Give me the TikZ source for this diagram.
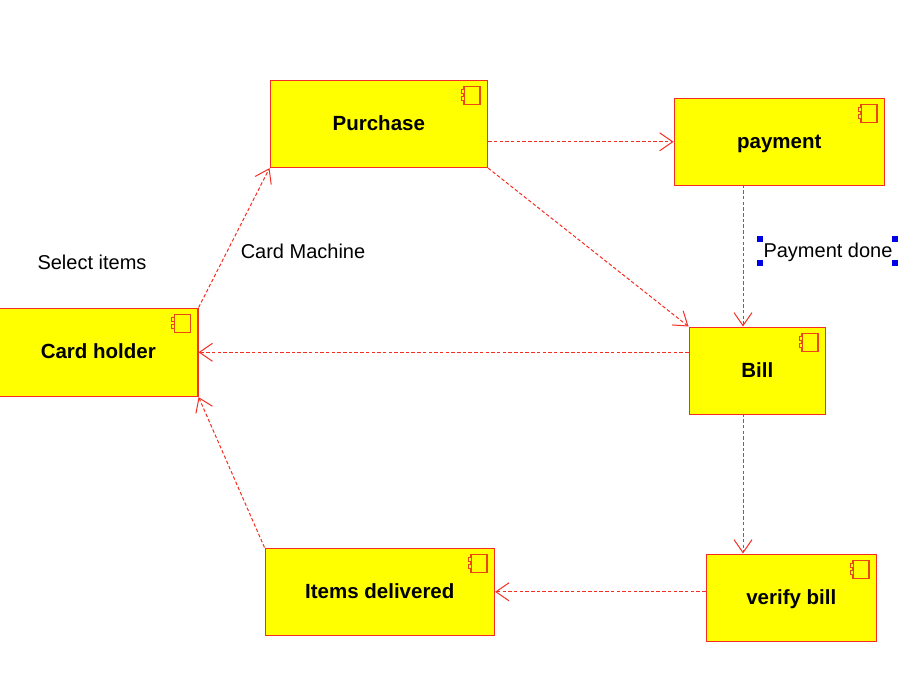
\documentclass[tikz,border=0pt]{standalone}
\usepackage{fontspec}
\setmainfont{Liberation Sans}
\usetikzlibrary{arrows.meta}
\definecolor{edge}{RGB}{245,45,35}
\definecolor{iconc}{RGB}{235,70,20}
\definecolor{yel}{RGB}{255,255,0}
\definecolor{hblue}{RGB}{0,0,230}
\newcommand{\compicon}[1]{%
  \draw[iconc,line width=1.5pt,fill=yel] ([shift={(-24,7)}]#1.north east) rectangle ([shift={(-8,25)}]#1.north east);
  \draw[iconc,line width=1pt,fill=yel] ([shift={(-27,10)}]#1.north east) rectangle ([shift={(-24,14)}]#1.north east);
  \draw[iconc,line width=1pt,fill=yel] ([shift={(-27,17)}]#1.north east) rectangle ([shift={(-24,21)}]#1.north east);
}
\tikzset{
  x=1pt,y=-1pt,
  comp/.style={draw=edge,fill=yel,line width=1.6pt,inner sep=0pt,anchor=north west,font=\fontsize{20.5}{22}\selectfont\bfseries,align=center,text height=17pt,text depth=4pt},
  flow/.style={edge,line width=1pt,dash pattern=on 3.5pt off 2.2pt,-{Straight Barb[length=13pt,width=18pt,line width=1pt]}},
  lbl/.style={font=\fontsize{20}{22}\selectfont,inner sep=0pt,text=black},
  handle/.style={fill=hblue,draw=none,minimum size=6.5pt,inner sep=0pt}
}
\begin{document}
\begin{tikzpicture}
\useasboundingbox (0,0) rectangle (901,694);
\node[comp,minimum width=217pt,minimum height=87pt] (purchase) at (269.5,79.5) {Purchase};
\node[comp,minimum width=210pt,minimum height=87pt] (payment) at (673.5,97.5) {payment};
\node[comp,minimum width=136pt,minimum height=87pt] (bill) at (688.5,326.5) {Bill};
\node[comp,minimum width=199pt,minimum height=88pt] (card) at (-2,307.5) {Card holder};
\node[comp,minimum width=229pt,minimum height=87pt] (items) at (264.5,547.5) {Items delivered};
\node[comp,minimum width=170pt,minimum height=87pt] (verify) at (705.5,553.5) {verify bill};
\compicon{purchase}\compicon{payment}\compicon{bill}\compicon{card}\compicon{items}\compicon{verify}
\coordinate (billtop) at (743,326.5);
\coordinate (paybot) at (743,184.5);
\coordinate (billbot) at (743,413.5);
\coordinate (vertop) at (743,553.5);
\draw[flow] (card.north east) -- (purchase.south west);
\draw[flow] (purchase.east |- payment.west) -- (payment.west);
\draw[flow] (purchase.south east) -- (bill.north west);
\draw[flow] (paybot) -- (billtop);
\draw[flow] (bill.west |- card.east) -- (card.east);
\draw[flow] (billbot) -- (vertop);
\draw[flow] (verify.west |- items.east) -- (items.east);
\draw[flow] (items.north west) -- (card.south east);
\node[lbl] (selectitems) at (92,262) {Select items};
\node[lbl] (cardmachine) at (303,251) {Card Machine};
\node[lbl] (paymentdone) at (828,252) {Payment done};
\node[handle] (h1) at (760,239) {};
\node[handle] (h2) at (895,239) {};
\node[handle] (h3) at (760,263) {};
\node[handle] (h4) at (895,263) {};
\end{tikzpicture}
\end{document}
